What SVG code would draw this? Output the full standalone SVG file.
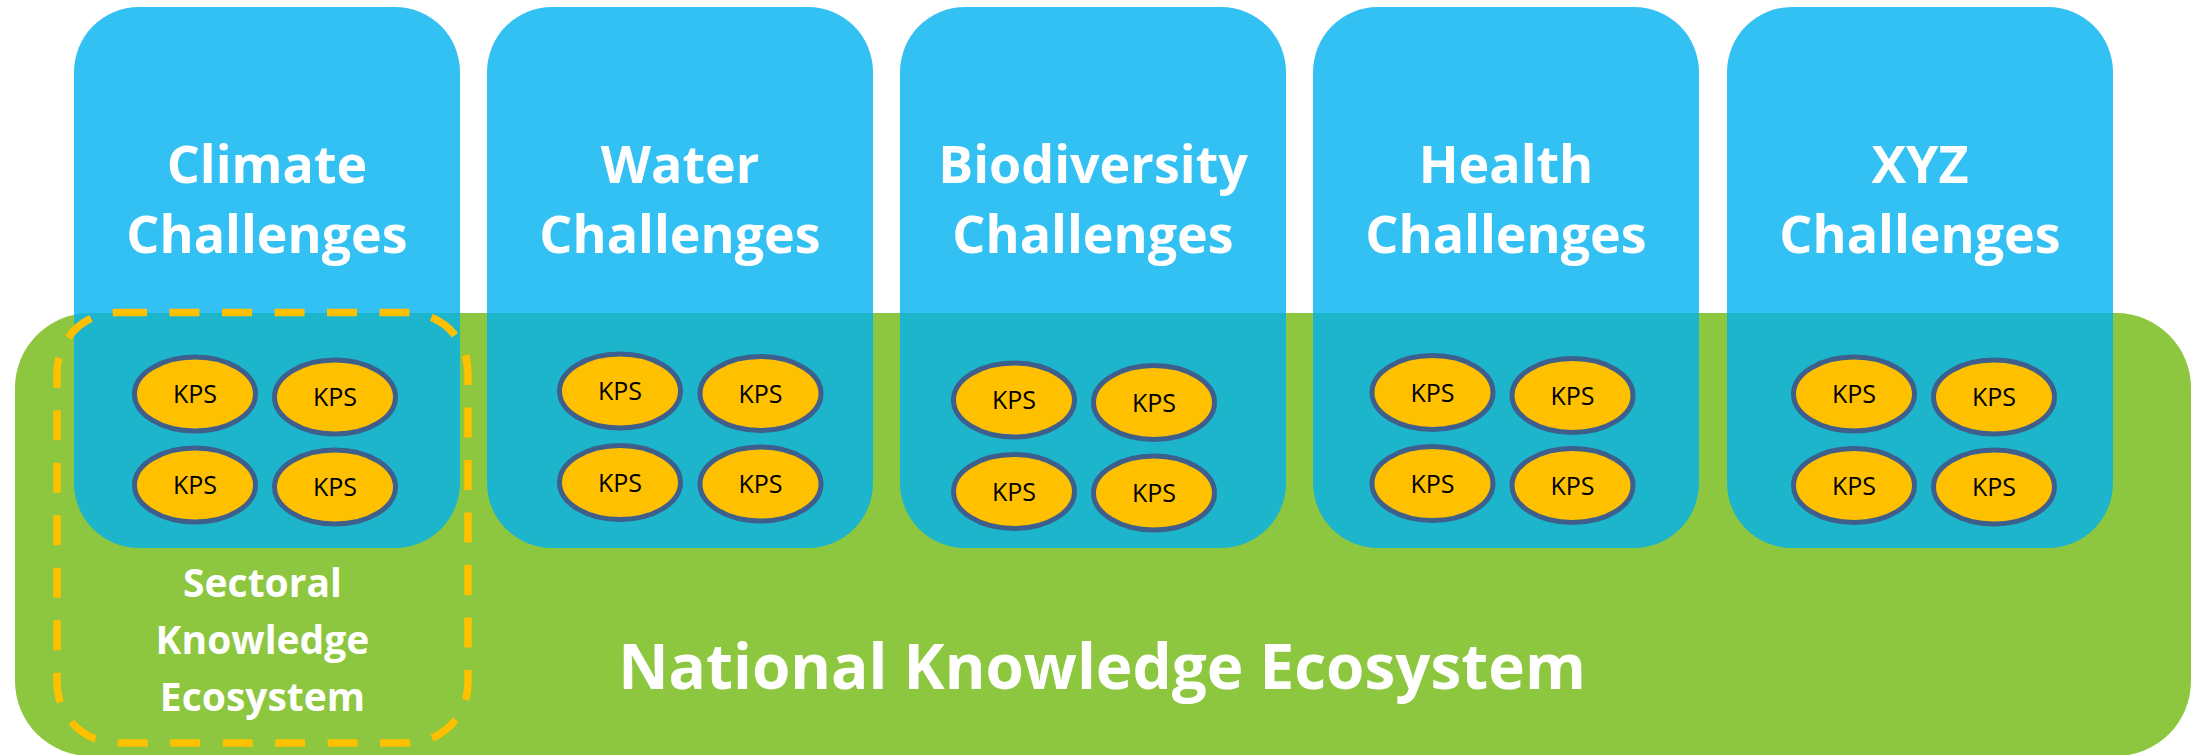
<svg xmlns="http://www.w3.org/2000/svg" width="2193" height="755" viewBox="0 0 2193 755">
<style>
.eco{fill:#8DC63F}
.box{fill:#00B0F0;fill-opacity:0.8}
.kps{fill:#FFC000;stroke:#3E5F8C;stroke-width:5}
.kt{font-family:"Open Sans","Liberation Sans",sans-serif;font-size:25px;fill:#000;text-anchor:middle}
.tt{font-family:"Open Sans","Liberation Sans",sans-serif;font-weight:bold;font-size:52px;fill:#fff;text-anchor:middle}
.st{font-family:"Open Sans","Liberation Sans",sans-serif;font-weight:bold;font-size:39px;fill:#fff;text-anchor:middle}
.nt{font-family:"Open Sans","Liberation Sans",sans-serif;font-weight:bold;font-size:62px;fill:#fff;text-anchor:middle}
.dash{fill:none;stroke:#FFC000;stroke-width:7.5;stroke-dasharray:30 22.5}
</style>
<rect width="2193" height="755" fill="#fff"/>
<g id="national">
<rect class="eco" x="15" y="313" width="2176" height="443" rx="75"/>
</g>
<g id="climate">
<rect class="box" x="74" y="7" width="386" height="541" rx="65"/>
<text class="tt" x="267" y="183">Climate</text>
<text class="tt" x="267" y="253">Challenges</text>
<ellipse class="kps" cx="195" cy="394" rx="60.5" ry="37"/><text class="kt" x="195" y="403">KPS</text>
<ellipse class="kps" cx="335" cy="397" rx="60.5" ry="37"/><text class="kt" x="335" y="406">KPS</text>
<ellipse class="kps" cx="195" cy="485" rx="60.5" ry="37"/><text class="kt" x="195" y="494">KPS</text>
<ellipse class="kps" cx="335" cy="487" rx="60.5" ry="37"/><text class="kt" x="335" y="496">KPS</text>
</g>
<g id="water">
<rect class="box" x="487" y="7" width="386" height="541" rx="65"/>
<text class="tt" x="680" y="183">Water</text>
<text class="tt" x="680" y="253">Challenges</text>
<ellipse class="kps" cx="620" cy="391" rx="60.5" ry="37"/><text class="kt" x="620" y="400">KPS</text>
<ellipse class="kps" cx="760.5" cy="393.5" rx="60.5" ry="37"/><text class="kt" x="760.5" y="402.5">KPS</text>
<ellipse class="kps" cx="620" cy="482.5" rx="60.5" ry="37"/><text class="kt" x="620" y="491.5">KPS</text>
<ellipse class="kps" cx="760.5" cy="484" rx="60.5" ry="37"/><text class="kt" x="760.5" y="493">KPS</text>
</g>
<g id="biodiversity">
<rect class="box" x="900" y="7" width="386" height="541" rx="65"/>
<text class="tt" x="1093" y="183">Biodiversity</text>
<text class="tt" x="1093" y="253">Challenges</text>
<ellipse class="kps" cx="1014" cy="400" rx="60.5" ry="37"/><text class="kt" x="1014" y="409">KPS</text>
<ellipse class="kps" cx="1154" cy="402.5" rx="60.5" ry="37"/><text class="kt" x="1154" y="411.5">KPS</text>
<ellipse class="kps" cx="1014" cy="491.5" rx="60.5" ry="37"/><text class="kt" x="1014" y="500.5">KPS</text>
<ellipse class="kps" cx="1154" cy="493" rx="60.5" ry="37"/><text class="kt" x="1154" y="502">KPS</text>
</g>
<g id="health">
<rect class="box" x="1313" y="7" width="386" height="541" rx="65"/>
<text class="tt" x="1506" y="183">Health</text>
<text class="tt" x="1506" y="253">Challenges</text>
<ellipse class="kps" cx="1432.5" cy="392.5" rx="60.5" ry="37"/><text class="kt" x="1432.5" y="401.5">KPS</text>
<ellipse class="kps" cx="1572.5" cy="395.5" rx="60.5" ry="37"/><text class="kt" x="1572.5" y="404.5">KPS</text>
<ellipse class="kps" cx="1432.5" cy="483.5" rx="60.5" ry="37"/><text class="kt" x="1432.5" y="492.5">KPS</text>
<ellipse class="kps" cx="1572.5" cy="485.5" rx="60.5" ry="37"/><text class="kt" x="1572.5" y="494.5">KPS</text>
</g>
<g id="xyz">
<rect class="box" x="1727" y="7" width="386" height="541" rx="65"/>
<text class="tt" x="1920" y="183">XYZ</text>
<text class="tt" x="1920" y="253">Challenges</text>
<ellipse class="kps" cx="1854" cy="394" rx="60.5" ry="37"/><text class="kt" x="1854" y="403">KPS</text>
<ellipse class="kps" cx="1994" cy="397" rx="60.5" ry="37"/><text class="kt" x="1994" y="406">KPS</text>
<ellipse class="kps" cx="1854" cy="485.5" rx="60.5" ry="37"/><text class="kt" x="1854" y="494.5">KPS</text>
<ellipse class="kps" cx="1994" cy="487" rx="60.5" ry="37"/><text class="kt" x="1994" y="496">KPS</text>
</g>
<g id="sectoral">
<rect class="dash" x="57" y="312.5" width="411" height="430.5" rx="60"/>
<text class="st" x="262.5" y="597">Sectoral</text>
<text class="st" x="262.5" y="654">Knowledge</text>
<text class="st" x="262.5" y="711">Ecosystem</text>
</g>
<g id="national-label">
<text class="nt" x="1102" y="689">National Knowledge Ecosystem</text>
</g>
<g id="connectors"/>
</svg>
